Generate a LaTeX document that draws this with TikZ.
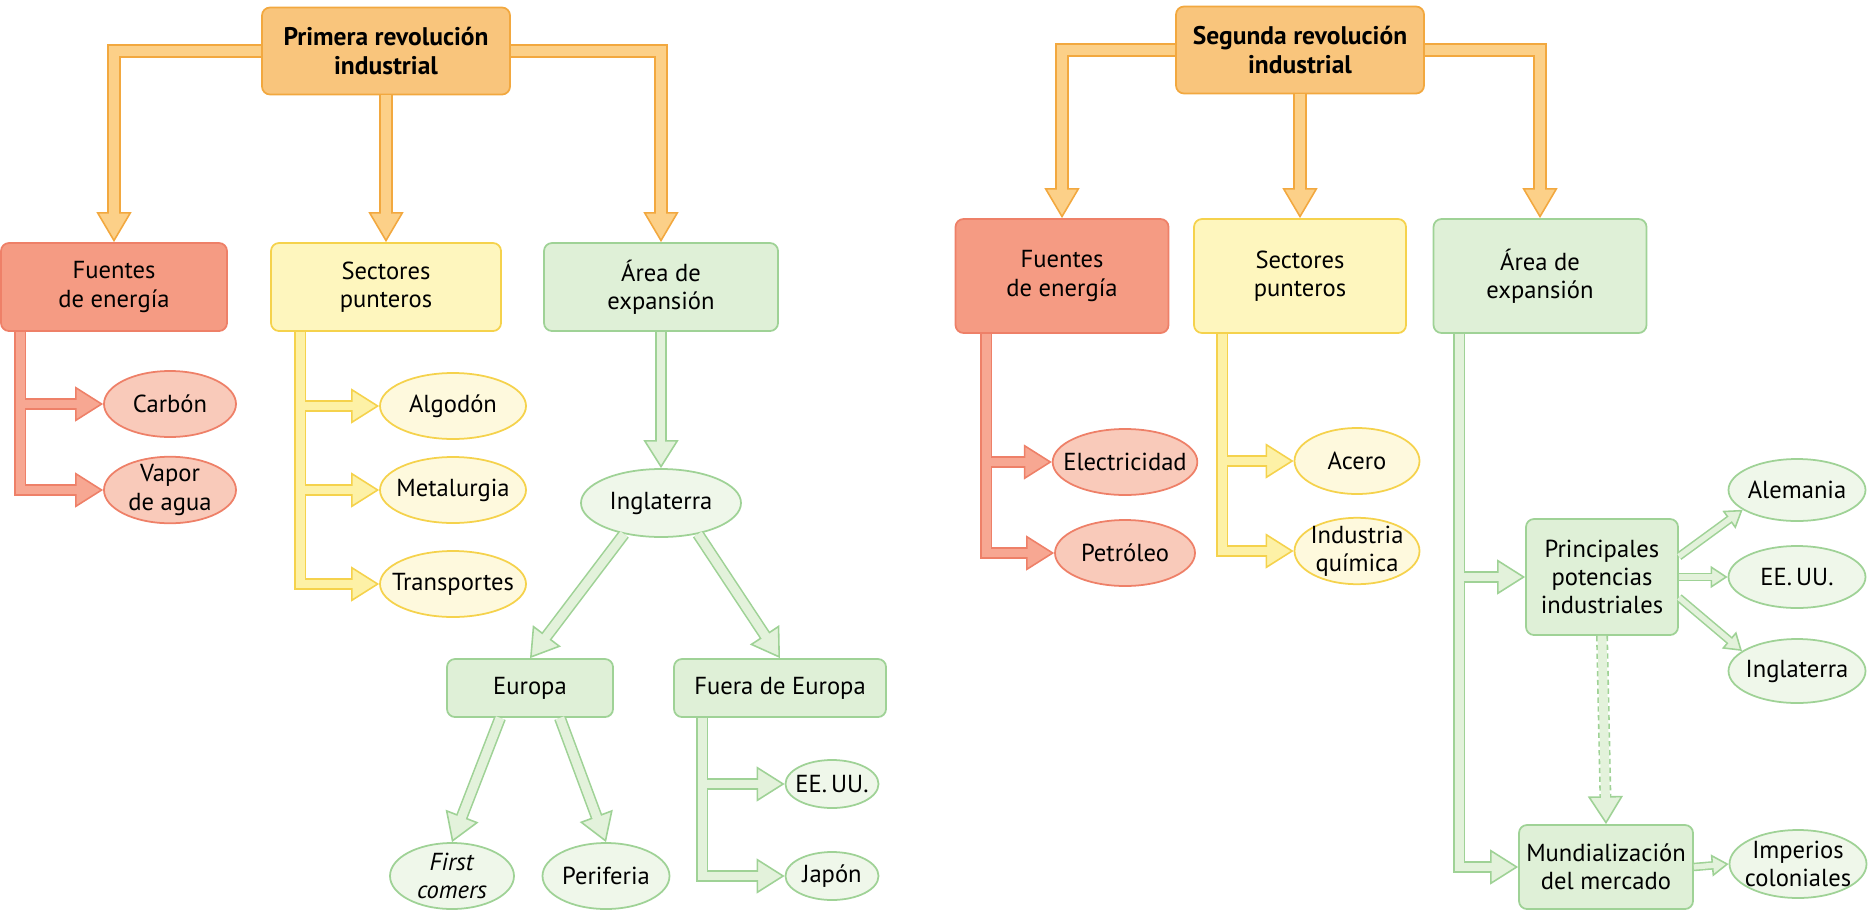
\documentclass[tikz,border=0pt]{standalone}
\usepackage{fontspec}
\setmainfont{PT Sans}
\usepackage{tikz}
\usetikzlibrary{arrows.meta, shapes.geometric}

\definecolor{oraline}{HTML}{F2A83F}
\definecolor{orafill}{HTML}{FCD088}
\definecolor{oratop}{HTML}{F9C57C}
\definecolor{redline}{HTML}{EE8068}
\definecolor{redfill}{HTML}{F7A792}
\definecolor{redbox}{HTML}{F59B83}
\definecolor{redoval}{HTML}{F9CABA}
\definecolor{yelline}{HTML}{F5D24C}
\definecolor{yelfill}{HTML}{FDF1A6}
\definecolor{yelbox}{HTML}{FEF6BE}
\definecolor{yeloval}{HTML}{FEF9DD}
\definecolor{grnline}{HTML}{9FD296}
\definecolor{grnfill}{HTML}{E3F2DB}
\definecolor{grnbox}{HTML}{DFF0D7}
\definecolor{grnoval}{HTML}{EFF7EA}

\pgfdeclarelayer{back}
\pgfsetlayers{back,main}

\newcommand{\arrsw}{2.4mm}
\newcommand{\arrhl}{5.6mm}
\newcommand{\arrhw}{7mm}

\tikzset{
  bigarr/.code={\def\arrsw{2.7mm}\def\arrhl{6mm}\def\arrhw{7mm}},
  midarr/.code={\def\arrsw{2.4mm}\def\arrhl{5.6mm}\def\arrhw{7mm}},
  smallarr/.code={\def\arrsw{1.7mm}\def\arrhl{3.4mm}\def\arrhw{4.4mm}},
  rim/.style={draw=#1line, line width=\arrsw, -{Triangle[length=\arrhl, width=\arrhw, line width=0.9pt, fill=#1fill]}},
  core/.style={draw=#1fill, line width=\arrsw-1.8pt, shorten >=\arrhl-1.5pt},
  box/.style={draw, rounded corners=1.6mm, line width=1pt, align=center, minimum height=1.76cm, font=\fontsize{14}{16}\selectfont},
  topbox/.style={box, draw=oraline, fill=oratop, minimum width=4.96cm, minimum height=1.74cm, font=\bfseries\fontsize{14.5}{17}\selectfont},
  rbox/.style={box, draw=redline, fill=redbox},
  ybox/.style={box, draw=yelline, fill=yelbox},
  gbox/.style={box, draw=grnline, fill=grnbox},
  oval/.style={ellipse, draw, line width=1pt, inner xsep=-6pt, inner ysep=-1pt, align=center, minimum height=1.32cm, font=\fontsize{14}{16}\selectfont},
  roval/.style={oval, draw=redline, fill=redoval},
  yoval/.style={oval, draw=yelline, fill=yeloval},
  goval/.style={oval, draw=grnline, fill=grnoval},
}

\newcommand{\fatlink}[4][]{%
  \begin{pgfonlayer}{back}
    \draw[#2, rim=#3, #1] #4;
  \end{pgfonlayer}
  \draw[#2, core=#3] #4;
}

\begin{document}
\begin{tikzpicture}[x=0.2mm, y=-0.2mm]
\useasboundingbox (0,0) rectangle (1874,916);

\node[topbox] (prim1) at (386,51) {Primera revolución\\industrial};
\node[rbox, minimum width=4.52cm] (fuen1) at (114,287) {Fuentes\\de energía};
\node[ybox, minimum width=4.6cm] (sect1) at (386,287) {Sectores\\punteros};
\node[gbox, minimum width=4.68cm] (area1) at (661,287) {Área de\\expansión};
\node[roval, minimum width=2.64cm] (carbon) at (170,404) {Carbón};
\node[roval, minimum width=2.64cm] (vapor) at (170,490) {Vapor\\de agua};
\node[yoval, minimum width=2.92cm] (algodon) at (453,406) {Algodón};
\node[yoval, minimum width=2.92cm] (metal) at (453,490) {Metalurgia};
\node[yoval, minimum width=2.92cm] (transp) at (453,584) {Transportes};
\node[goval, minimum width=3.2cm, minimum height=1.36cm] (ingl1) at (661,503) {Inglaterra};
\node[gbox, minimum width=3.32cm, minimum height=1.16cm] (europa) at (530,688) {Europa};
\node[gbox, minimum width=4.24cm, minimum height=1.16cm] (fuera) at (780,688) {Fuera de Europa};
\node[goval, minimum width=2.48cm] (first) at (452,876) {\textit{First}\\\textit{comers}};
\node[goval, minimum width=2.54cm] (perif) at (606,876) {Periferia};
\node[goval, minimum width=1.86cm, minimum height=0.96cm] (eeuu1) at (832,784) {EE.\,UU.};
\node[goval, minimum width=1.86cm, minimum height=0.96cm] (japon) at (832,876) {Japón};

\node[topbox] (prim2) at (1300,50) {Segunda revolución\\industrial};
\node[rbox, minimum width=4.26cm, minimum height=2.28cm] (fuen2) at (1062,276) {Fuentes\\de energía};
\node[ybox, minimum width=4.24cm, minimum height=2.28cm] (sect2) at (1300,276) {Sectores\\punteros};
\node[gbox, minimum width=4.26cm, minimum height=2.28cm] (area2) at (1540,276) {Área de\\expansión};
\node[roval, minimum width=2.8cm] (elec) at (1125,462) {Electricidad};
\node[roval, minimum width=2.8cm] (petro) at (1125,553) {Petróleo};
\node[yoval, minimum width=2.5cm] (acero) at (1357,461) {Acero};
\node[yoval, minimum width=2.5cm] (quim) at (1357,551) {Industria\\química};
\node[gbox, minimum width=3.04cm, minimum height=2.32cm] (princ) at (1602,577) {Principales\\potencias\\industriales};
\node[gbox, minimum width=3.48cm, minimum height=1.68cm] (mund) at (1606,867) {Mundialización\\del mercado};
\node[goval, minimum width=2.74cm, minimum height=1.24cm] (alem) at (1797,490) {Alemania};
\node[goval, minimum width=2.74cm, minimum height=1.24cm] (eeuu2) at (1797,577) {EE.\,UU.};
\node[goval, minimum width=2.74cm, minimum height=1.28cm] (ingl2) at (1797,671) {Inglaterra};
\node[goval, minimum width=2.74cm, minimum height=1.36cm] (imper) at (1798,864) {Imperios\\coloniales};

\fatlink{bigarr}{ora}{(prim1.west) -| (fuen1.north)}
\fatlink{bigarr}{ora}{(prim1.south) -- (sect1.north)}
\fatlink{bigarr}{ora}{(prim1.east) -| (area1.north)}
\fatlink{midarr}{red}{([xshift=4mm]fuen1.south west) |- (carbon.west)}
\fatlink{midarr}{red}{([xshift=4mm]fuen1.south west) |- (vapor.west)}
\fatlink{midarr}{yel}{([xshift=6mm]sect1.south west) |- (algodon.west)}
\fatlink{midarr}{yel}{([xshift=6mm]sect1.south west) |- (metal.west)}
\fatlink{midarr}{yel}{([xshift=6mm]sect1.south west) |- (transp.west)}
\fatlink{midarr}{grn}{(area1.south) -- (ingl1.north)}
\fatlink{midarr}{grn}{(ingl1.-140) -- (europa.north)}
\fatlink{midarr}{grn}{(ingl1.-40) -- (fuera.north)}
\fatlink{midarr}{grn}{(europa.-135) -- (first.north)}
\fatlink{midarr}{grn}{(europa.-45) -- (perif.north)}
\fatlink{midarr}{grn}{([xshift=5.8mm]fuera.south west) |- (eeuu1.west)}
\fatlink{midarr}{grn}{([xshift=5.8mm]fuera.south west) |- (japon.west)}

\fatlink{bigarr}{ora}{(prim2.west) -| (fuen2.north)}
\fatlink{bigarr}{ora}{(prim2.south) -- (sect2.north)}
\fatlink{bigarr}{ora}{(prim2.east) -| (area2.north)}
\fatlink{midarr}{red}{([xshift=6.3mm]fuen2.south west) |- (elec.west)}
\fatlink{midarr}{red}{([xshift=6.3mm]fuen2.south west) |- (petro.west)}
\fatlink{midarr}{yel}{([xshift=5.8mm]sect2.south west) |- (acero.west)}
\fatlink{midarr}{yel}{([xshift=5.8mm]sect2.south west) |- (quim.west)}
\fatlink{midarr}{grn}{([xshift=5.3mm]area2.south west) |- (princ.west)}
\fatlink{midarr}{grn}{([xshift=5.3mm]area2.south west) |- (mund.west)}
\fatlink{smallarr}{grn}{(princ.15) -- (alem.200)}
\fatlink{smallarr}{grn}{(princ.east) -- (eeuu2.west)}
\fatlink{smallarr}{grn}{(princ.-15) -- (ingl2.160)}
\fatlink{smallarr}{grn}{(mund.east) -- (imper.west)}
\fatlink[dash pattern=on 3pt off 2pt]{midarr}{grn}{(princ.south) -- (mund.north)}
\end{tikzpicture}
\end{document}
